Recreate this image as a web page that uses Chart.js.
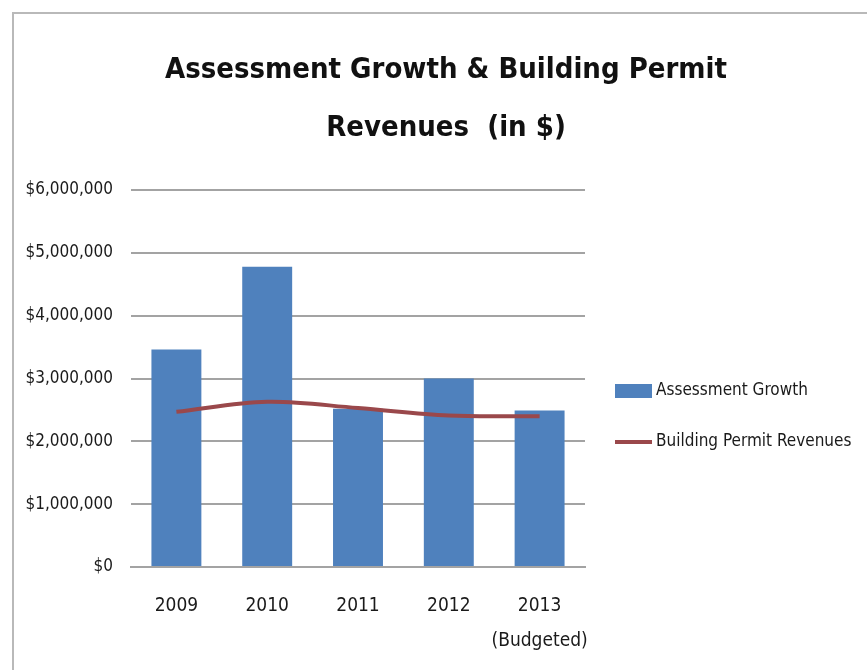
<!DOCTYPE html>
<html>
<head>
<meta charset="utf-8">
<title>Assessment Growth & Building Permit Revenues</title>
<script src="https://cdn.jsdelivr.net/npm/chart.js@4/dist/chart.umd.min.js"></script>
<style>
  html, body { margin: 0; padding: 0; background: #ffffff; }
  #wrap { position: relative; width: 867px; height: 670px; overflow: hidden; }
  #frame {
    position: absolute; left: 12px; top: 12px; width: 900px; height: 700px;
    border-left: 2px solid #b9b9b9; border-top: 2px solid #b9b9b9;
  }
  #chart { position: absolute; left: 0; top: 0; }
</style>
</head>
<body>
<div id="wrap">
  <div id="frame"></div>
  <canvas id="chart" width="867" height="670"></canvas>
</div>
<script>
// Fiscal years shown on the x axis (2013 is the budget year)
const years = ['2009', '2010', '2011', '2012', ['2013', '(Budgeted)']];

// Assessment growth per year, in dollars
const assessmentGrowth = [3460000, 4780000, 2520000, 3000000, 2490000];

// Building permit revenues per year, in dollars
const permitRevenues = [2470000, 2630000, 2530000, 2410000, 2400000];

// Y axis range and step
const yMin = 0;
const yMax = 6000000;
const yStep = 1000000;

const FONT = "'DejaVu Sans Condensed', 'DejaVu Sans', sans-serif";
const BLUE = '#4f81bd';
const RED = '#9a484b';
const GRID = '#a3a3a3';
const TEXT = '#1a1a1a';

const money = v => '$' + Number(v).toLocaleString('en-US');

// Legend drawn in the space kept free on the right of the plot
const sideLegend = {
  id: 'sideLegend',
  afterDraw(chart, args, opts) {
    const { ctx, chartArea } = chart;
    const x0 = chartArea.right + opts.offsetX;
    ctx.save();
    ctx.font = opts.fontSize + 'px ' + FONT;
    ctx.textBaseline = 'middle';
    ctx.textAlign = 'left';
    chart.data.datasets.forEach((ds, i) => {
      const yc = chartArea.top + opts.firstY + i * opts.spacing;
      if (ds.type === 'bar') {
        ctx.fillStyle = ds.backgroundColor;
        ctx.fillRect(x0, yc - opts.boxHeight / 2, opts.boxWidth, opts.boxHeight);
      } else {
        ctx.strokeStyle = ds.borderColor;
        ctx.lineWidth = ds.borderWidth;
        ctx.beginPath();
        ctx.moveTo(x0, yc);
        ctx.lineTo(x0 + opts.boxWidth, yc);
        ctx.stroke();
      }
      ctx.fillStyle = TEXT;
      ctx.fillText(ds.label, x0 + opts.boxWidth + opts.gap, yc);
    });
    ctx.restore();
  }
};

new Chart(document.getElementById('chart'), {
  data: {
    labels: years,
    datasets: [
      {
        type: 'bar',
        label: 'Assessment Growth',
        data: assessmentGrowth,
        backgroundColor: BLUE,
        borderWidth: 0,
        barPercentage: 0.55,
        categoryPercentage: 1,
        order: 2
      },
      {
        type: 'line',
        label: 'Building Permit Revenues',
        data: permitRevenues,
        borderColor: RED,
        backgroundColor: RED,
        borderWidth: 4,
        tension: 0.35,
        pointRadius: 0,
        pointHoverRadius: 0,
        fill: false,
        order: 1
      }
    ]
  },
  plugins: [sideLegend],
  options: {
    responsive: false,
    animation: false,
    layout: { padding: { left: 25, right: 0, top: 0, bottom: 0 } },
    plugins: {
      tooltip: { enabled: false },
      legend: { display: false },
      title: {
        display: true,
        text: ['Assessment Growth & Building Permit', 'Revenues  (in $)'],
        color: '#111111',
        font: { family: FONT, size: 29, weight: 'bold', lineHeight: '58px' },
        padding: { top: 41, bottom: 33 }
      },
      sideLegend: {
        offsetX: 30,
        firstY: 201,
        spacing: 51,
        boxWidth: 37,
        boxHeight: 14,
        gap: 4,
        fontSize: 17
      }
    },
    scales: {
      x: {
        afterFit(scale) { scale.height = 103; },
        grid: { display: false, drawTicks: false },
        border: { display: true, color: GRID, width: 2 },
        ticks: {
          color: TEXT,
          font: { family: FONT, size: 19, lineHeight: '35px' },
          padding: 22,
          maxRotation: 0,
          autoSkip: false
        }
      },
      y: {
        min: yMin,
        max: yMax,
        afterFit(scale) { scale.width = 106; },
        grid: { color: GRID, lineWidth: 2, drawTicks: false },
        border: { display: false },
        ticks: {
          stepSize: yStep,
          color: TEXT,
          font: { family: FONT, size: 17 },
          padding: 18,
          callback: v => money(v)
        }
      },
      // empty right-hand axis that only reserves room for the legend
      legendSpace: {
        type: 'linear',
        position: 'right',
        display: true,
        afterFit(scale) { scale.width = 282; },
        grid: { display: false, drawTicks: false },
        border: { display: false },
        ticks: { display: false }
      }
    }
  }
});
</script>
</body>
</html>
